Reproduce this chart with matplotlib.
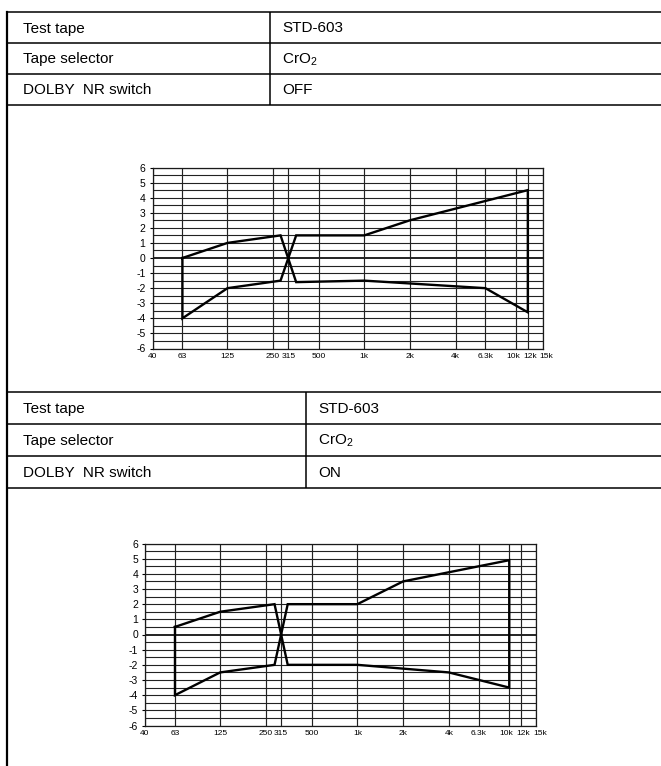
import numpy as np
import matplotlib
matplotlib.use("Agg")
import matplotlib.pyplot as plt
from matplotlib.lines import Line2D
from matplotlib.transforms import ScaledTranslation

plt.rcParams["font.family"] = ["Liberation Sans", "DejaVu Sans"]
plt.rcParams["mathtext.fontset"] = "custom"
plt.rcParams["mathtext.rm"] = "Liberation Sans"

W, H = 661, 766

# ---- data -------------------------------------------------------------
row_labels = ["Test tape", "Tape selector", "DOLBY  NR switch"]
off_values = ["STD-603", "CrO$_2$", "OFF"]
on_values = ["STD-603", "CrO$_2$", "ON"]

freq_ticks = [40, 63, 125, 250, 315, 500, 1000, 2000, 4000, 6300, 10000, 12000, 15000]
freq_labels = ["40", "63", "125", "250", "315", "500", "1k", "2k", "4k",
               "6.3k", "10k", "12k", "15k"]
db_ticks = list(range(-6, 7))
db_labels = [str(v) for v in db_ticks]

# DOLBY NR OFF: two boundary traces crossing at 315 Hz
off_a_freq = [63, 125, 280, 355, 1000, 6300, 12000]
off_a_db = [0.0, 1.0, 1.5, -1.6, -1.5, -2.0, -3.6]
off_b_freq = [63, 125, 280, 355, 1000, 2000, 12000]
off_b_db = [-4.0, -2.0, -1.5, 1.5, 1.5, 2.5, 4.5]

# DOLBY NR ON
on_a_freq = [63, 125, 285, 348, 1000, 4000, 10000]
on_a_db = [0.5, 1.5, 2.0, -2.0, -2.0, -2.5, -3.5]
on_b_freq = [63, 125, 285, 348, 1000, 2000, 10000]
on_b_db = [-4.0, -2.5, -2.0, 2.0, 2.0, 3.5, 4.9]

# ---- figure -----------------------------------------------------------
fig = plt.figure(figsize=(W / 100, H / 100), dpi=100)
fig.patch.set_facecolor("white")

bg = fig.add_axes([0, 0, 1, 1])
bg.set_xlim(0, W)
bg.set_ylim(H, 0)
bg.axis("off")

LINE_KW = dict(color="black", lw=1.1, solid_capstyle="butt")


def draw_table(top, row_h, divider, values):
    ys = [top + i * row_h for i in range(4)]
    for y in ys:
        bg.add_line(Line2D([7, W], [y, y], **LINE_KW))
    bg.add_line(Line2D([divider, divider], [ys[0], ys[-1]], **LINE_KW))
    for i in range(3):
        yc = ys[i] + row_h / 2 + 1
        bg.text(23, yc, row_labels[i], fontsize=11, va="center", ha="left")
        bg.text(divider + 12, yc, values[i], fontsize=11, va="center", ha="left")


draw_table(12, 31, 270, off_values)
draw_table(392, 32, 306, on_values)
# outer left border running the full height
bg.add_line(Line2D([7, 7], [12, H], color="black", lw=1.6))


def px_axes(left, right, top, bottom):
    return fig.add_axes([left / W, 1 - bottom / H, (right - left) / W, (bottom - top) / H])


# small horizontal nudges (pixels) for the crowded labels at the top end
LABEL_NUDGE = {"10k": -3, "12k": 2, "15k": 4}


def draw_chart(ax, a_f, a_db, b_f, b_db):
    ax.set_xscale("log")
    ax.set_xlim(40, 15000)
    ax.set_ylim(-6, 6)
    # paper grid: every 0.5 dB, vertical lines at the printed frequencies
    for y in np.arange(-6, 6.01, 0.5):
        ax.axhline(y, color="#222222", lw=0.8 if y != 0 else 1.4, zorder=1)
    for f in freq_ticks:
        ax.axvline(f, color="#222222", lw=0.85, zorder=1)
    # closed outline: trace a, then trace b back to the start
    xs = list(a_f) + list(b_f[::-1]) + [a_f[0]]
    ys = list(a_db) + list(b_db[::-1]) + [a_db[0]]
    ax.plot(xs, ys, color="black", lw=1.7, zorder=3, solid_joinstyle="miter")
    ax.set_xticks(freq_ticks)
    ax.set_xticklabels(freq_labels)
    ax.minorticks_off()
    ax.set_yticks(db_ticks)
    ax.set_yticklabels(db_labels)
    ax.tick_params(axis="x", length=0, pad=3, labelsize=6)
    ax.tick_params(axis="y", length=2, width=0.8, pad=3, labelsize=7.5)
    for lab in ax.get_xticklabels():
        dx = LABEL_NUDGE.get(lab.get_text(), 0)
        if dx:
            lab.set_transform(lab.get_transform()
                              + ScaledTranslation(dx / 100, 0, fig.dpi_scale_trans))
    for s in ax.spines.values():
        s.set_linewidth(0.9)
        s.set_color("#1a1a1a")
    ax.set_facecolor("white")


ax1 = px_axes(152.5, 542.5, 167.5, 348.5)
draw_chart(ax1, off_a_freq, off_a_db, off_b_freq, off_b_db)

ax2 = px_axes(145, 536, 543.5, 725.5)
draw_chart(ax2, on_a_freq, on_a_db, on_b_freq, on_b_db)

fig.savefig("out.png", dpi=100, facecolor="white")
